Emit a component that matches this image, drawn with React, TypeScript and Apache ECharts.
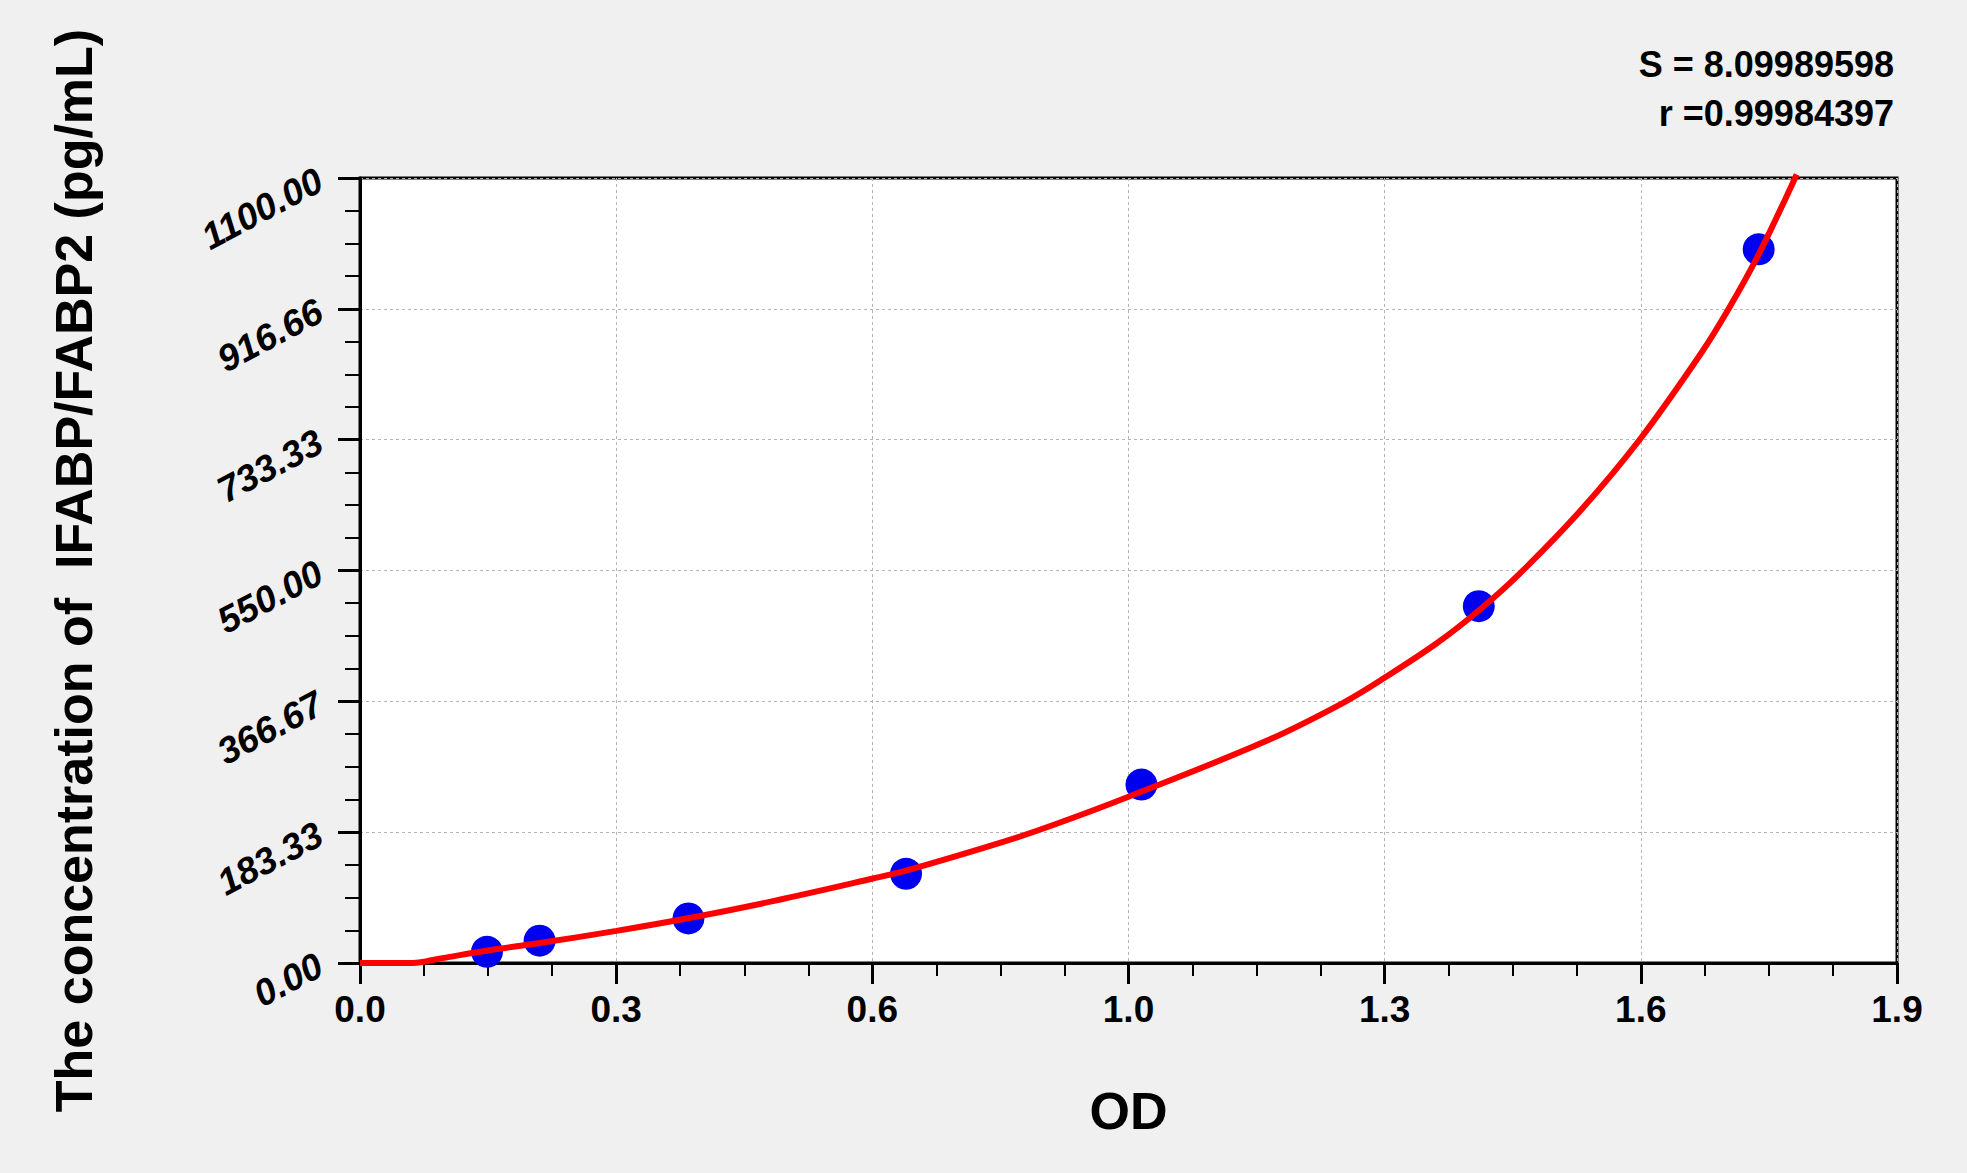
import * as echarts from "echarts";
import { useEffect, useRef } from "react";

// standard points (OD, concentration pg/mL)
const stdOD = [0.157, 0.222, 0.406, 0.675, 0.966, 1.383, 1.729];
const stdConc = [15.6, 31.25, 62.5, 125, 250, 500, 1000];

// fitted curve
const curveOD = [
	0, 0.065, 0.1, 0.158, 0.222, 0.317, 0.407, 0.512, 0.633, 0.677, 0.796, 0.856, 0.95, 1.12, 1.216,
	1.267, 1.331, 1.383, 1.433, 1.508, 1.583, 1.657, 1.691, 1.729, 1.776
];
const curveConc = [
	0, 0, 6.5, 17.5, 28, 45, 63, 87, 118, 130, 170, 193, 233, 311, 365, 400, 448, 494, 545, 633, 735,
	853, 915, 993, 1105
];

const xTickLabels = ["0.0", "0.3", "0.6", "1.0", "1.3", "1.6", "1.9"];
const yTickLabels = ["0.00", "183.33", "366.67", "550.00", "733.33", "916.66", "1100.00"];

const xMax = 1.9;
const yMax = 1100;
const xStep = xMax / 6;
const yStep = yMax / 6;

const fontFamily = "'Liberation Sans', Arial, sans-serif";

const splitLine = {
	show: true,
	lineStyle: { color: "#b4b4b4", width: 1, type: [3, 3] as number[] }
};

const option: echarts.EChartsOption = {
	animation: false,
	backgroundColor: "#f0f0f0",
	grid: {
		left: 360,
		top: 178,
		width: 1537,
		height: 785,
		show: true,
		backgroundColor: "#ffffff",
		borderColor: "#000000",
		borderWidth: 3
	},
	graphic: [
		{
			type: "text",
			x: 1894,
			y: 64,
			style: {
				text: "S = 8.09989598",
				fill: "#000",
				font: `bold 36px ${fontFamily}`,
				textAlign: "right",
				textVerticalAlign: "middle"
			}
		},
		{
			type: "text",
			x: 1894,
			y: 113,
			style: {
				text: "r =0.99984397",
				fill: "#000",
				font: `bold 36px ${fontFamily}`,
				textAlign: "right",
				textVerticalAlign: "middle"
			}
		}
	],
	xAxis: {
		type: "value",
		min: 0,
		max: xMax,
		interval: xStep,
		name: "OD",
		nameLocation: "middle",
		nameGap: 122,
		nameTextStyle: { fontSize: 52, fontWeight: "bold", color: "#000", fontFamily },
		axisLine: { show: true, lineStyle: { color: "#000", width: 3 } },
		axisTick: { show: true, length: 21, lineStyle: { color: "#000", width: 3 } },
		minorTick: { show: true, splitNumber: 4, length: 13, lineStyle: { color: "#000", width: 2 } },
		axisLabel: {
			margin: 28,
			fontSize: 37,
			fontWeight: "bold",
			color: "#000",
			fontFamily,
			formatter: (v: number) => xTickLabels[Math.round(v / xStep)] ?? ""
		},
		splitLine
	},
	yAxis: {
		type: "value",
		min: 0,
		max: yMax,
		interval: yStep,
		name: "The concentration of  IFABP/FABP2 (pg/mL)",
		nameLocation: "middle",
		nameGap: 260,
		nameRotate: 90,
		nameTextStyle: { fontSize: 52, fontWeight: "bold", color: "#000", fontFamily },
		axisLine: { show: true, lineStyle: { color: "#000", width: 3 } },
		axisTick: { show: true, length: 22, lineStyle: { color: "#000", width: 3 } },
		minorTick: { show: true, splitNumber: 4, length: 15, lineStyle: { color: "#000", width: 2 } },
		axisLabel: {
			margin: 40,
			rotate: 28,
			fontSize: 37,
			fontWeight: "bold",
			fontStyle: "italic",
			color: "#000",
			fontFamily,
			formatter: (v: number) => yTickLabels[Math.round(v / yStep)] ?? ""
		},
		splitLine
	},
	series: [
		{
			type: "scatter",
			data: stdOD.map((x, i) => [x, stdConc[i]]),
			symbol: "circle",
			symbolSize: 32,
			itemStyle: { color: "#0000f0", opacity: 1 },
			z: 2
		},
		{
			type: "line",
			data: curveOD.map((x, i) => [x, curveConc[i]]),
			smooth: 0.35,
			showSymbol: false,
			clip: false,
			lineStyle: { color: "#ff0000", width: 6 },
			z: 3
		}
	]
};

const App = () => {
	const chartRef = useRef<HTMLDivElement>(null);

	useEffect(() => {
		const chart = echarts.init(chartRef.current!, undefined, { renderer: "svg" });
		chart.setOption(option);

		return () => {
			chart.dispose();
		};
	}, []);

	return (
		<div
			ref={chartRef}
			style={{ position: "absolute", left: 0, top: 0, width: "1967px", height: "1173px" }}
		/>
	);
};

export default App;
